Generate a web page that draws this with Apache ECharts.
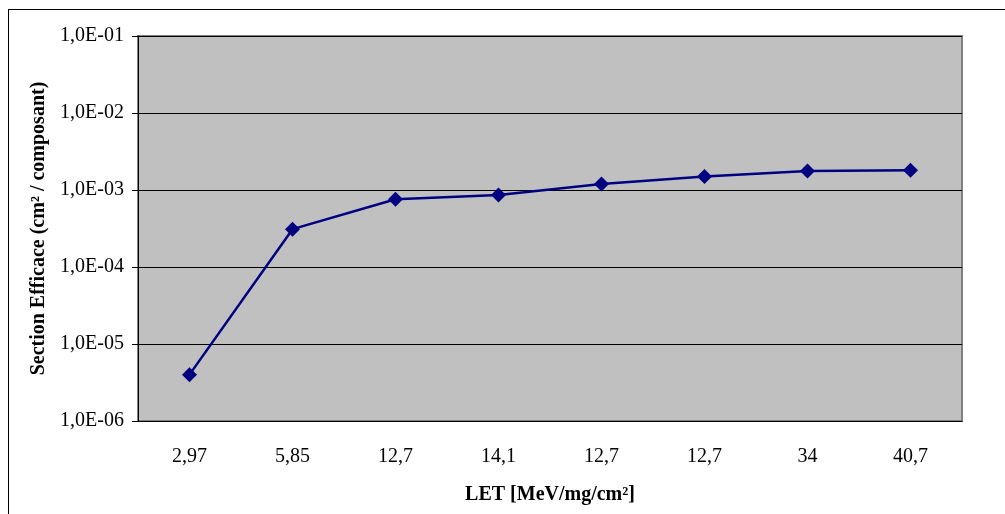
<!DOCTYPE html>
<html>
<head>
<meta charset="utf-8">
<script src="https://cdn.jsdelivr.net/npm/echarts@6/dist/echarts.min.js"></script>
<style>
  html, body { margin: 0; padding: 0; background: #fff; }
  #frame { position: absolute; left: 8px; top: 9px; width: 1010px; height: 520px; border: 1px solid #000; box-sizing: border-box; }
  #chart { position: absolute; left: 0; top: 0; width: 1005px; height: 514px; }
</style>
</head>
<body>
<div id="frame"></div>
<div id="chart"></div>
<script>
// LET des ions (libellés tels qu'affichés)
const letLabels = ['2,97', '5,85', '12,7', '14,1', '12,7', '12,7', '34', '40,7'];
// Section efficace mesurée (cm² / composant)
const crossSection = [4.0e-6, 3.1e-4, 7.6e-4, 8.6e-4, 1.2e-3, 1.5e-3, 1.77e-3, 1.8e-3];
const yTickLabels = ['1,0E-06', '1,0E-05', '1,0E-04', '1,0E-03', '1,0E-02', '1,0E-01'];

const chart = echarts.init(document.getElementById('chart'));
const font = "'Liberation Serif', 'Times New Roman', serif";

chart.setOption({
    animation: false,
    grid: { left: 138, top: 36, width: 824, height: 385, show: true, backgroundColor: '#C0C0C0', borderColor: '#808080', borderWidth: 2 },
    xAxis: {
        type: 'category',
        data: letLabels.map((l, i) => i),
        boundaryGap: true,
        name: 'LET [MeV/mg/cm²]',
        nameLocation: 'middle',
        nameGap: 64,
        nameTextStyle: { fontFamily: font, fontSize: 20, fontWeight: 'bold', color: '#000' },
        axisLine: { lineStyle: { color: '#000', width: 1 } },
        axisTick: { length: 6, alignWithLabel: false, lineStyle: { color: '#000' } },
        axisLabel: { margin: 26, fontFamily: font, fontSize: 20, color: '#000', formatter: v => letLabels[v] }
    },
    yAxis: {
        type: 'log',
        logBase: 10,
        min: 1e-6,
        max: 1e-1,
        name: 'Section Efficace (cm² / composant)',
        nameLocation: 'middle',
        nameGap: 83,
        nameTextStyle: { fontFamily: font, fontSize: 20, fontWeight: 'bold', color: '#000' },
        axisLine: { show: true, lineStyle: { color: '#000', width: 1 } },
        axisTick: { show: true, length: 6, lineStyle: { color: '#000' } },
        minorTick: { show: false },
        splitLine: { show: true, lineStyle: { color: '#000', width: 1 } },
        axisLabel: {
            margin: 14, fontFamily: font, fontSize: 20, color: '#000',
            formatter: v => yTickLabels[Math.round(Math.log10(v)) + 6]
        }
    },
    series: [{
        type: 'line',
        data: crossSection,
        symbol: 'diamond',
        symbolSize: 15,
        itemStyle: { color: '#000080' },
        lineStyle: { color: '#000080', width: 2.5 }
    }]
});
</script>
</body>
</html>
